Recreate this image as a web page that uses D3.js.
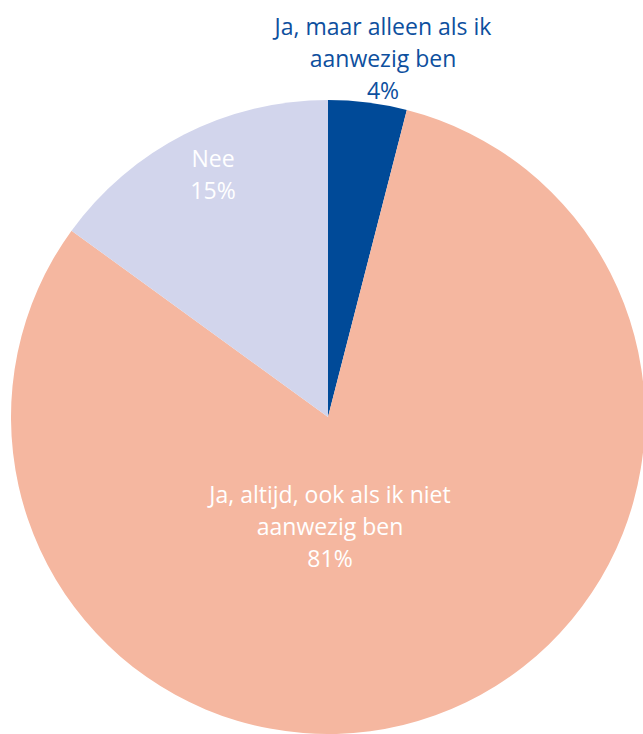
<!DOCTYPE html>
<html><head><meta charset="utf-8">
<script src="https://cdn.jsdelivr.net/npm/d3@7"></script>
<style>html,body{margin:0;padding:0;background:#fff;}svg{display:block;}</style>
</head><body>
<svg id="chart" width="643" height="734"></svg>
<script>
const categories = ["Ja, maar alleen als ik aanwezig ben", "Ja, altijd, ook als ik niet aanwezig ben", "Nee"];
const values = [4, 81, 15];
const labelLines = [["Ja, maar alleen als ik", "aanwezig ben", "4%"], ["Ja, altijd, ook als ik niet", "aanwezig ben", "81%"], ["Nee", "15%"]];
const colors = ["#004a98", "#f5b7a0", "#d2d5ec"];
const textColors = ["#0d4f9e", "#ffffff", "#ffffff"];
// label layout (first baseline x, y)
const labelPos = [[383, 35], [330, 503], [213, 167]];

const svg = d3.select("#chart");
const cx = 328, cy = 417, R = 317;
const g = svg.append("g").attr("transform", `translate(${cx},${cy})`);
const pie = d3.pie().sort(null).value(d => d)(values);
const arc = d3.arc().innerRadius(0).outerRadius(R);
g.selectAll("path").data(pie).enter().append("path")
  .attr("d", arc).attr("fill", (d, i) => colors[i]);

labelLines.forEach((lines, i) => {
  const t = svg.append("text")
    .attr("text-anchor", "middle")
    .attr("font-family", "'Open Sans', sans-serif")
    .attr("font-size", 23)
    .attr("fill", textColors[i]);
  lines.forEach((l, j) => {
    t.append("tspan").attr("x", labelPos[i][0]).attr("y", labelPos[i][1] + j * 32).text(l);
  });
});
</script>
</body></html>
